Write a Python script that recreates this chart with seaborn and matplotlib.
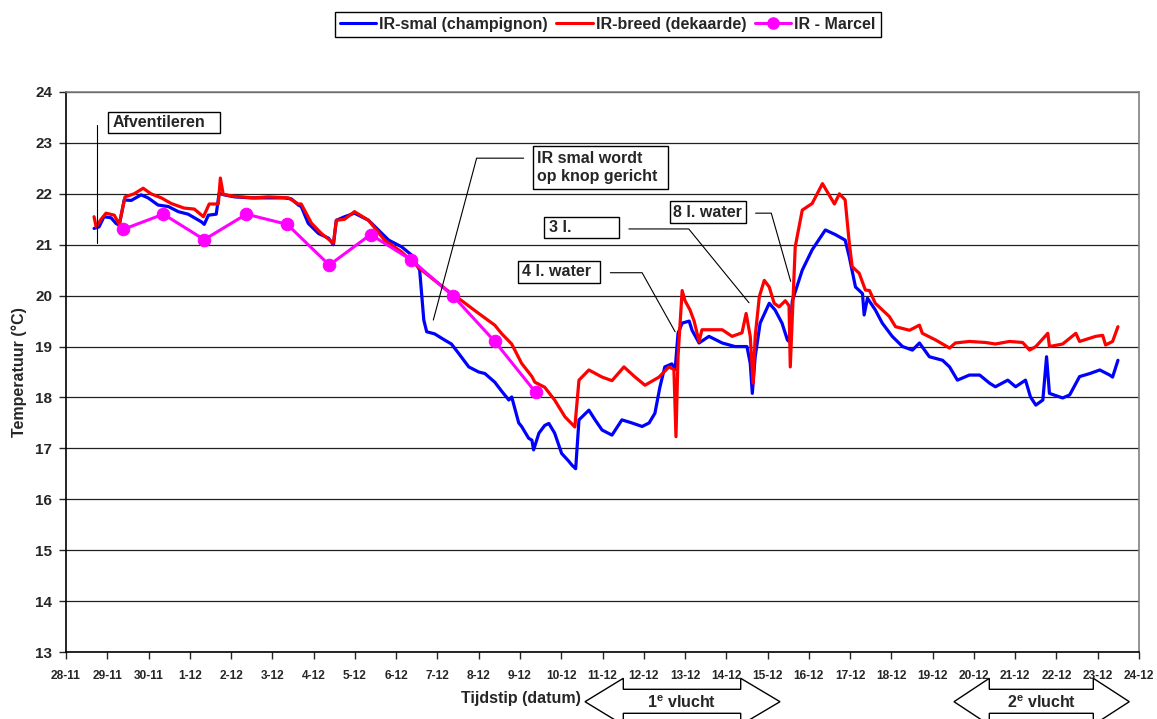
import matplotlib
matplotlib.use("Agg")
import matplotlib.pyplot as plt
import seaborn as sns
from matplotlib.patches import Rectangle, Polygon
from matplotlib.lines import Line2D

# tijd in dagen sinds 28-11 00:00
smal_dag = [0.68, 0.80, 0.92, 1.09, 1.21, 1.29, 1.41, 1.58, 1.82, 1.99, 2.23, 2.48, 2.72, 2.96,
            3.28, 3.35, 3.45, 3.64, 3.71, 3.83, 4.08, 4.49, 4.90, 5.29, 5.46, 5.63, 5.70, 5.87,
            6.12, 6.36, 6.48, 6.55, 6.75, 6.99, 7.33, 7.57, 7.82, 8.13, 8.37, 8.57, 8.67, 8.74,
            8.93, 9.17, 9.34, 9.51, 9.76, 10.00, 10.15, 10.39, 10.56, 10.73, 10.80, 10.97, 11.04,
            11.21, 11.29, 11.33, 11.46, 11.60, 11.70, 11.84, 12.01, 12.18, 12.26, 12.35, 12.43,
            12.67, 12.82, 12.99, 13.23, 13.47, 13.71, 13.96, 14.13, 14.27, 14.39, 14.51, 14.68,
            14.76, 14.83, 14.93, 15.10, 15.17, 15.34, 15.58, 15.90, 16.21, 16.50, 16.58, 16.63,
            16.70, 16.82, 17.04, 17.18, 17.35, 17.48, 17.52, 17.60, 17.84, 18.08, 18.40, 18.64,
            18.88, 18.98, 19.13, 19.30, 19.34, 19.42, 19.61, 19.78, 20.02, 20.27, 20.51, 20.68,
            20.92, 21.24, 21.41, 21.60, 21.89, 22.14, 22.38, 22.52, 22.82, 23.01, 23.25, 23.37,
            23.50, 23.67, 23.76, 23.83, 24.15, 24.32, 24.56, 24.81, 25.05, 25.29, 25.36, 25.49]
smal_temp = [21.32, 21.35, 21.55, 21.53, 21.42, 21.38, 21.88, 21.87, 21.98, 21.92, 21.78, 21.75,
             21.65, 21.60, 21.45, 21.40, 21.58, 21.60, 22.01, 21.98, 21.94, 21.92, 21.92, 21.92,
             21.90, 21.78, 21.75, 21.42, 21.22, 21.13, 21.00, 21.48, 21.55, 21.62, 21.48, 21.29,
             21.09, 20.96, 20.80, 20.50, 19.52, 19.29, 19.25, 19.13, 19.05, 18.87, 18.60, 18.50,
             18.47, 18.30, 18.12, 17.95, 18.01, 17.50, 17.43, 17.20, 17.16, 16.97, 17.30, 17.45,
             17.49, 17.30, 16.90, 16.75, 16.67, 16.60, 17.56, 17.75, 17.56, 17.36, 17.26, 17.56,
             17.50, 17.43, 17.50, 17.69, 18.20, 18.60, 18.66, 18.55, 19.26, 19.46, 19.50, 19.32,
             19.07, 19.20, 19.07, 19.00, 19.00, 18.67, 18.08, 18.80, 19.46, 19.85, 19.72, 19.46,
             19.13, 19.10, 19.90, 20.50, 20.90, 21.29, 21.20, 21.09, 20.76, 20.17, 20.04, 19.62,
             19.95, 19.72, 19.46, 19.20, 19.00, 18.93, 19.07, 18.80, 18.73, 18.60, 18.34, 18.44,
             18.44, 18.28, 18.21, 18.34, 18.21, 18.34, 18.01, 17.85, 17.95, 18.80, 18.08, 17.99,
             18.05, 18.41, 18.47, 18.54, 18.44, 18.40, 18.73]

breed_dag = [0.68, 0.73, 0.85, 0.97, 1.17, 1.29, 1.43, 1.65, 1.87, 2.06, 2.31, 2.55, 2.86, 3.11,
             3.33, 3.47, 3.69, 3.74, 3.81, 4.08, 4.56, 4.90, 5.39, 5.63, 5.70, 5.95, 6.19, 6.48,
             6.55, 6.75, 6.99, 7.33, 7.72, 8.13, 8.62, 8.93, 9.34, 9.59, 10.00, 10.39, 10.56,
             10.80, 11.04, 11.29, 11.36, 11.60, 11.84, 12.09, 12.33, 12.43, 12.67, 12.99, 13.23,
             13.52, 13.79, 14.03, 14.37, 14.61, 14.73, 14.78, 14.83, 14.93, 15.00, 15.12, 15.22,
             15.34, 15.41, 15.66, 15.90, 16.14, 16.38, 16.48, 16.58, 16.65, 16.70, 16.80, 16.92,
             17.04, 17.16, 17.28, 17.43, 17.52, 17.55, 17.62, 17.67, 17.84, 18.08, 18.33, 18.62,
             18.74, 18.88, 18.98, 19.05, 19.22, 19.37, 19.47, 19.61, 19.95, 20.10, 20.44, 20.68,
             20.75, 21.07, 21.41, 21.55, 21.89, 22.28, 22.52, 22.86, 23.18, 23.35, 23.50, 23.79,
             23.83, 24.15, 24.47, 24.56, 24.95, 25.12, 25.19, 25.36, 25.49]
breed_temp = [21.55, 21.35, 21.50, 21.62, 21.58, 21.40, 21.94, 22.00, 22.11, 22.00, 21.92, 21.81,
              21.72, 21.70, 21.55, 21.80, 21.80, 22.31, 21.99, 21.95, 21.92, 21.94, 21.92, 21.80,
              21.80, 21.42, 21.22, 21.03, 21.48, 21.50, 21.65, 21.48, 21.09, 20.86, 20.50, 20.30,
              20.04, 19.90, 19.65, 19.42, 19.25, 19.05, 18.67, 18.41, 18.30, 18.20, 17.95, 17.62,
              17.42, 18.34, 18.54, 18.40, 18.33, 18.60, 18.40, 18.24, 18.40, 18.60, 18.55, 17.23,
              18.80, 20.10, 19.90, 19.72, 19.50, 19.10, 19.33, 19.33, 19.33, 19.20, 19.27, 19.65,
              19.20, 18.28, 19.20, 19.98, 20.30, 20.17, 19.85, 19.78, 19.90, 19.80, 18.60, 19.98,
              20.96, 21.68, 21.81, 22.20, 21.80, 22.00, 21.88, 21.03, 20.57, 20.44, 20.11, 20.10,
              19.85, 19.59, 19.39, 19.32, 19.42, 19.26, 19.13, 18.97, 19.07, 19.10, 19.08, 19.05,
              19.10, 19.08, 18.93, 19.00, 19.26, 19.00, 19.05, 19.26, 19.10, 19.20, 19.22, 19.03,
              19.10, 19.39]

marcel_dag = [1.38, 2.36, 3.35, 4.37, 5.36, 6.38, 7.38, 8.37, 9.37, 10.39, 11.38]
marcel_temp = [21.3, 21.6, 21.1, 21.6, 21.4, 20.6, 21.2, 20.7, 20.0, 19.1, 18.1]

datum_labels = ["28-11", "29-11", "30-11"] + [f"{d}-12" for d in range(1, 25)]

sns.set_style("white")
plt.rcParams['font.family'] = ['Liberation Sans', 'DejaVu Sans']
plt.rcParams['font.weight'] = 'bold'
plt.rcParams['mathtext.fontset'] = 'custom'
plt.rcParams['mathtext.rm'] = 'Liberation Sans:bold'
plt.rcParams['mathtext.it'] = 'Liberation Sans:bold'

W, H = 1157, 719
fig = plt.figure(figsize=(W / 100, H / 100), dpi=100)
ax = fig.add_axes([66 / W, 1 - 652 / H, 1073 / W, 560 / H])

sns.lineplot(x=smal_dag, y=smal_temp, color="#0000FF", lw=2.3, estimator=None, sort=False, ax=ax)
sns.lineplot(x=breed_dag, y=breed_temp, color="#FF0000", lw=2.3, estimator=None, sort=False, ax=ax)
sns.lineplot(x=marcel_dag, y=marcel_temp, color="#FF00FF", lw=2.2, marker="o", markersize=9,
             markeredgecolor="#FF00FF", estimator=None, sort=False, ax=ax)

ax.set_xlim(0, 26)
ax.set_ylim(13, 24)
ax.set_xticks(range(27))
ax.set_xticklabels(datum_labels, fontsize=8.6, fontweight="bold")
ax.set_yticks(range(13, 25))
ax.tick_params(axis="y", labelsize=11, direction="out", length=5, width=1, left=True, pad=5)
ax.tick_params(axis="x", direction="out", length=5, width=1, bottom=True, pad=8)
ax.yaxis.grid(True, color="#202020", lw=0.9)
ax.set_axisbelow(True)
for s in ["left", "bottom"]:
    ax.spines[s].set_color("black")
    ax.spines[s].set_linewidth(1.2)
for s in ["top", "right"]:
    ax.spines[s].set_color("#808080")
    ax.spines[s].set_linewidth(1.2)

ax.set_xlabel("")
ax.set_ylabel("Temperatuur (°C)", fontsize=11.5, fontweight="bold")
ax.yaxis.set_label_coords(-0.036, 0.5)
fig.text(581 / W, 1 - 699 / H, "Tijdstip (datum)", ha="right", va="center",
         fontsize=11.5, fontweight="bold")


def callout(x0, x1, y0, y1, tekst, tx, lx, ly):
    ax.add_patch(Rectangle((x0, y0), x1 - x0, y1 - y0, facecolor="white",
                           edgecolor="black", lw=1, zorder=5))
    ax.text(tx, (y0 + y1) / 2, tekst, ha="left", va="center", fontsize=11.5,
            fontweight="bold", linespacing=1.25, zorder=6)
    ax.plot(lx, ly, color="black", lw=0.8, zorder=4)


callout(1.02, 3.74, 23.19, 23.61, "Afventileren", 1.12, [0.75, 0.75], [23.35, 21.03])
callout(11.31, 14.59, 22.09, 22.94, "IR smal wordt\nop knop gericht", 11.41,
        [11.09, 9.95, 8.90], [22.70, 22.70, 19.52])
callout(11.58, 13.40, 21.13, 21.55, "3 l.", 11.70, [13.64, 15.09, 16.55], [21.31, 21.31, 19.86])
callout(10.96, 12.94, 20.25, 20.68, "4 l. water", 11.04, [13.19, 13.96, 14.76], [20.45, 20.45, 19.29])
callout(14.63, 16.47, 21.43, 21.85, "8 l. water", 14.71, [16.71, 17.09, 17.56], [21.62, 21.62, 20.28])


def blokpijl(xl, xb0, xb1, xr, tekst):
    pts = [(xl, 701.7), (xb0, 678.3), (xb0, 689.3), (xb1, 689.3), (xb1, 678.3), (xr, 701.7),
           (xb1, 725), (xb1, 713.3), (xb0, 713.3), (xb0, 725)]
    pts = [(px / W, 1 - py / H) for px, py in pts]
    fig.add_artist(Polygon(pts, closed=True, facecolor="white", edgecolor="black",
                           lw=1, transform=fig.transFigure, zorder=0))
    fig.text((xb0 + xb1) / 2 / W, 1 - 703 / H, tekst, ha="center", va="center",
             fontsize=11.5, fontweight="bold")


blokpijl(585, 623.3, 740.7, 780, r"1$^{e}$ vlucht")
blokpijl(954, 989.3, 1093.3, 1129.3, r"2$^{e}$ vlucht")

handles = [Line2D([], [], color="#0000FF", lw=2.2),
           Line2D([], [], color="#FF0000", lw=2.2),
           Line2D([], [], color="#FF00FF", lw=2.2, marker="o", markersize=8)]
leg = fig.legend(handles, ["IR-smal (champignon)", "IR-breed (dekaarde)", "IR - Marcel"],
                 loc="center", bbox_to_anchor=(607.7 / W, 1 - 24.5 / H), ncol=3,
                 frameon=True, fancybox=False, framealpha=1, edgecolor="black",
                 borderpad=0.3, handlelength=2.3, handletextpad=0.2, columnspacing=0.5,
                 prop={"size": 11.5, "weight": "bold"})
leg.get_frame().set_linewidth(1.0)

fig.savefig("out.png", dpi=100)
